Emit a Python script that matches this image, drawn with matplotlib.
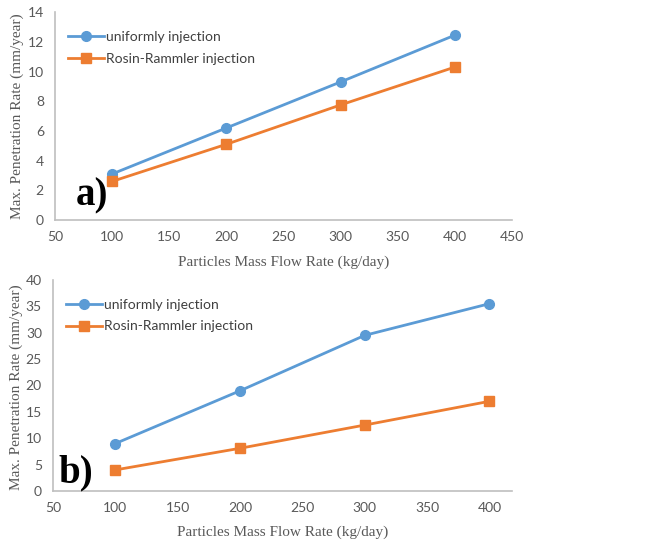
import matplotlib.pyplot as plt

flow = [100, 200, 300, 400]

uniform_a = [3.1, 6.2, 9.3, 12.45]
rosin_a = [2.6, 5.1, 7.75, 10.3]

uniform_b = [9.0, 19.0, 29.5, 35.5]
rosin_b = [4.0, 8.1, 12.5, 17.0]

blue = '#5B9BD5'
orange = '#ED7D31'
gray = '#595959'

fig = plt.figure(figsize=(6.66, 5.44), dpi=100)
ax1 = fig.add_axes([0.0826, 0.5956, 0.686, 0.382])
ax2 = fig.add_axes([0.0796, 0.0974, 0.689, 0.388])


def style(ax, u, r, xlim, xticks, ylim, yticks, tag, tagpos):
    ax.plot(flow, u, color=blue, lw=2, marker='o', ms=7, label='uniformly injection')
    ax.plot(flow, r, color=orange, lw=2, marker='s', ms=7, label='Rosin-Rammler injection')
    ax.set_xlim(*xlim)
    ax.set_ylim(*ylim)
    ax.set_xticks(xticks)
    ax.set_yticks(yticks)
    for s in ['top', 'right']:
        ax.spines[s].set_visible(False)
    for s in ['left', 'bottom']:
        ax.spines[s].set_color('#BFBFBF')
        ax.spines[s].set_linewidth(1.2)
    ax.tick_params(length=0, labelsize=10, labelcolor=gray, pad=8)
    for lab in ax.get_xticklabels() + ax.get_yticklabels():
        lab.set_family('Lato')
    ax.set_xlabel('Particles Mass Flow Rate (kg/day)', family='Liberation Serif',
                  fontsize=11, color=gray)
    ax.set_ylabel('Max. Penetration Rate (mm/year)', family='Liberation Serif',
                  fontsize=11, color=gray)
    leg = ax.legend(loc='upper left', bbox_to_anchor=(0.0, 0.97), frameon=False,
                    prop={'family': 'Lato', 'size': 10}, handlelength=2.6,
                    handletextpad=0.15, labelspacing=0.7)
    for t in leg.get_texts():
        t.set_color('#404040')
    ax.text(tagpos[0], tagpos[1], tag, transform=ax.transAxes, family='Liberation Serif',
            fontsize=28, fontweight='bold', color='black')


style(ax1, uniform_a, rosin_a, (50, 450), range(50, 451, 50), (0, 14), range(0, 15, 2),
      'a)', (0.045, 0.07))
style(ax2, uniform_b, rosin_b, (50, 418), range(50, 401, 50), (0, 40), range(0, 41, 5),
      'b)', (0.012, 0.04))

ax1.xaxis.set_label_coords(0.5, -0.17)
ax2.xaxis.set_label_coords(0.5, -0.165)
ax1.yaxis.set_label_coords(-0.068, 0.5)
ax2.yaxis.set_label_coords(-0.065, 0.49)

fig.savefig('out.png', dpi=100)
